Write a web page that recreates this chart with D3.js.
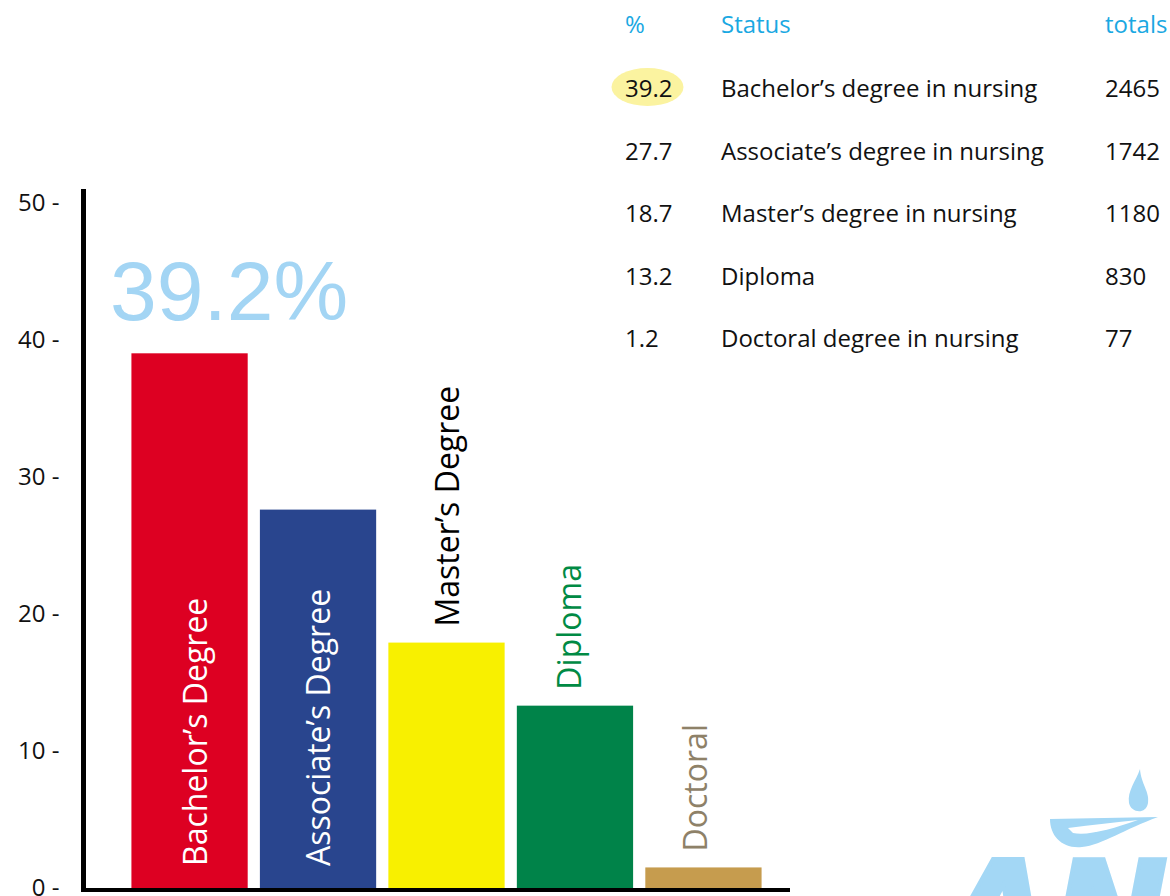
<html lang="en">
	<head>
		<meta charset="utf-8">
		<title>Nursing education status</title>
		<script src="https://d3js.org/d3.v7.min.js"></script>
		<style type="text/css">
			body {
				margin: 0;
				background-color: white;
			}
		</style>
	</head>
	<body>
		<script type="text/javascript">

			//Bar data (heights)
			var categories = ["Bachelor\u2019s Degree", "Associate\u2019s Degree", "Master\u2019s Degree", "Diploma", "Doctoral"];
			var barValues = [39.0, 27.6, 17.9, 13.3, 1.5];
			var yTicks = [0, 10, 20, 30, 40, 50];

			//Table data
			var tableHeaders = ["%", "Status", "totals"];
			var tablePercents = ["39.2", "27.7", "18.7", "13.2", "1.2"];
			var tableStatus = ["Bachelor\u2019s degree in nursing", "Associate\u2019s degree in nursing", "Master\u2019s degree in nursing", "Diploma", "Doctoral degree in nursing"];
			var tableTotals = ["2465", "1742", "1180", "830", "77"];
			var bigLabel = "39.2%";

			//Colours
			var barColors = ["#dd0022", "#29458e", "#f8f000", "#008349", "#c69c4e"];
			var labelColors = ["white", "white", "black", "#008a44", "#8e8168"];
			var labelInside = [true, true, false, false, false];
			var labelShift = [17, 12, 12, 6, 4];

			var w = 1170;
			var h = 896;

			//Scales
			var yScale = d3.scaleLinear()
					.domain([0, 50])
					.range([888, 202.5]);

			var xScale = d3.scaleBand()
					.domain(categories)
					.range([125, 768])
					.paddingInner(0.095)
					.paddingOuter(0.05);

			var svg = d3.select("body")
						.append("svg")
						.attr("width", w)
						.attr("height", h);

			//Logo (faint, bottom right)
			var logo = svg.append("g").attr("fill", "#a3d7f5");
			logo.append("path")
				.attr("d", "M1140,769 C1136,781 1127,791 1129,803 C1131,813 1146,815 1148,803 C1150,792 1141,784 1140,769 Z");
			logo.append("path")
				.attr("d", "M1050,819 L1158,817 C1125,829 1102,845 1082,847 C1062,849 1050,836 1050,819 Z");
			logo.append("path")
				.attr("fill", "white")
				.attr("d", "M1068,828 C1092,825 1116,822 1138,820 C1112,829 1088,836 1073,833 Z");
			logo.append("text")
				.attr("x", 945)
				.attr("y", 962)
				.attr("font-family", "DejaVu Sans")
				.attr("font-weight", "bold")
				.attr("font-style", "italic")
				.attr("font-size", "140px")
				.attr("textLength", 330)
				.attr("lengthAdjust", "spacingAndGlyphs")
				.attr("stroke", "#a3d7f5")
				.attr("stroke-width", 4)
				.text("ANA");

			//Bars
			svg.selectAll("rect.bar")
			   .data(barValues)
			   .enter()
			   .append("rect")
			   .attr("class", "bar")
			   .attr("x", function(d, i) { return xScale(categories[i]); })
			   .attr("y", function(d) { return yScale(d); })
			   .attr("width", xScale.bandwidth())
			   .attr("height", function(d) { return yScale(0) - yScale(d); })
			   .attr("fill", function(d, i) { return barColors[i]; });

			//Rotated bar labels
			svg.selectAll("text.barlabel")
			   .data(barValues)
			   .enter()
			   .append("text")
			   .attr("class", "barlabel")
			   .attr("transform", function(d, i) {
			   		var cx = xScale(categories[i]) + xScale.bandwidth() / 2 + labelShift[i];
			   		var sy = labelInside[i] ? yScale(0) - 22 : yScale(d) - 16;
			   		return "translate(" + cx + "," + sy + ") rotate(-90)";
			   })
			   .attr("font-family", "Open Sans")
			   .attr("font-size", "32px")
			   .attr("fill", function(d, i) { return labelColors[i]; })
			   .text(function(d, i) { return categories[i]; });

			//Big percentage
			svg.append("text")
				.attr("x", 110)
				.attr("y", 320)
				.attr("font-family", "Liberation Sans")
				.attr("font-size", "84px")
				.attr("fill", "#a3d5f4")
				.text(bigLabel);

			//Y axis
			var yAxis = d3.axisLeft()
						  .scale(yScale)
						  .tickValues(yTicks)
						  .tickSize(0)
						  .tickPadding(24)
						  .tickFormat(function(d) { return d + " -"; });

			var yg = svg.append("g")
				.attr("transform", "translate(83.5,0)")
				.call(yAxis);
			yg.select(".domain").remove();
			yg.selectAll("text")
				.attr("font-family", "Open Sans")
				.attr("font-size", "24px")
				.attr("fill", "#111");

			//Axis lines
			svg.append("line")
				.attr("x1", 83.5).attr("x2", 83.5)
				.attr("y1", 189).attr("y2", 892)
				.attr("stroke", "black")
				.attr("stroke-width", 5);
			svg.append("line")
				.attr("x1", 81).attr("x2", 790)
				.attr("y1", 890).attr("y2", 890)
				.attr("stroke", "black")
				.attr("stroke-width", 4);

			//Table
			var colX = [625, 721, 1105];
			var rowY = d3.scaleLinear().domain([0, 4]).range([97, 347]);

			svg.append("ellipse")
				.attr("cx", 647.5)
				.attr("cy", 87)
				.attr("rx", 36)
				.attr("ry", 19)
				.attr("fill", "#fbf3a0");

			svg.selectAll("text.head")
			   .data(tableHeaders)
			   .enter()
			   .append("text")
			   .attr("class", "head")
			   .attr("x", function(d, i) { return colX[i]; })
			   .attr("y", 33)
			   .attr("font-family", "Open Sans")
			   .attr("font-size", "24px")
			   .attr("fill", "#1aa8e2")
			   .text(function(d) { return d; });

			var rows = svg.selectAll("g.row")
			   .data(tablePercents)
			   .enter()
			   .append("g")
			   .attr("class", "row")
			   .attr("font-family", "Open Sans")
			   .attr("font-size", "24px")
			   .attr("fill", "#111");

			rows.append("text")
				.attr("x", colX[0])
				.attr("y", function(d, i) { return rowY(i); })
				.text(function(d) { return d; });
			rows.append("text")
				.attr("x", colX[1])
				.attr("y", function(d, i) { return rowY(i); })
				.text(function(d, i) { return tableStatus[i]; });
			rows.append("text")
				.attr("x", colX[2])
				.attr("y", function(d, i) { return rowY(i); })
				.text(function(d, i) { return tableTotals[i]; });

		</script>
	</body>
</html>
